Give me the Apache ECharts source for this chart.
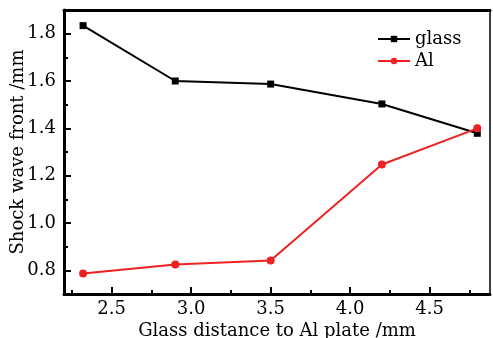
<!DOCTYPE html>
<html>
<head>
<meta charset="utf-8">
<script src="https://cdn.jsdelivr.net/npm/echarts@6/dist/echarts.min.js"></script>
<style>
  html, body { margin: 0; padding: 0; background: #fff; }
  #chart { width: 493px; height: 338px; }
</style>
</head>
<body>
<div id="chart"></div>
<script>
// data
const distances = [2.32, 2.9, 3.5, 4.2, 4.8];
const glassFront = [1.834, 1.6, 1.587, 1.503, 1.379];
const alFront = [0.787, 0.825, 0.842, 1.247, 1.4];

const xMajorTicks = [2.5, 3.0, 3.5, 4.0, 4.5];
const xMinorTicks = [2.25, 2.75, 3.25, 3.75, 4.25, 4.75];
const yMajorTicks = [0.8, 1.0, 1.2, 1.4, 1.6, 1.8];
const yMinorTicks = [0.9, 1.1, 1.3, 1.5, 1.7];

const font = 'DejaVu Serif';
const xRange = [2.2, 4.88];
const yRange = [0.7, 1.9];

function pairs(xs, ys) {
  return xs.map((x, i) => [x, ys[i]]);
}

let chart = echarts.init(document.getElementById('chart'));

chart.setOption({
  animation: false,
  textStyle: { fontFamily: font, color: '#000' },
  legend: {
    orient: 'vertical',
    left: 372,
    top: 25,
    itemWidth: 32,
    itemHeight: 8,
    itemGap: 4,
    textStyle: { fontFamily: font, fontSize: 18, color: '#000' },
    data: ['glass', 'Al']
  },
  grid: {
    left: 64,
    top: 10,
    right: 3,
    bottom: 44,
    outerBoundsMode: 'none',
    containLabel: false,
    show: true,
    borderColor: '#000',
    borderWidth: 1.5
  },
  xAxis: [
    {
      type: 'value',
      position: 'bottom',
      min: xRange[0],
      max: xRange[1],
      name: 'Glass distance to Al plate /mm',
      nameLocation: 'middle',
      nameGap: 28,
      nameMoveOverlap: false,
      nameTextStyle: { fontFamily: font, fontSize: 18, color: '#000' },
      axisLine: { lineStyle: { color: '#000', width: 3 } },
      axisTick: { inside: true, length: 7, lineStyle: { color: '#000', width: 2 }, customValues: xMajorTicks },
      axisLabel: { fontFamily: font, fontSize: 18, color: '#000', margin: 6, customValues: xMajorTicks,
        formatter: v => v.toFixed(1) },
      splitLine: { show: false }
    },
    {
      type: 'value',
      position: 'bottom',
      min: xRange[0],
      max: xRange[1],
      axisLine: { show: false },
      axisTick: { inside: true, length: 4, lineStyle: { color: '#000', width: 2 }, customValues: xMinorTicks },
      axisLabel: { show: false },
      splitLine: { show: false }
    },
    {
      type: 'value',
      position: 'top',
      min: xRange[0],
      max: xRange[1],
      axisLine: { lineStyle: { color: '#000', width: 3 } },
      axisTick: { show: false },
      axisLabel: { show: false },
      splitLine: { show: false }
    }
  ],
  yAxis: [
    {
      type: 'value',
      position: 'left',
      min: yRange[0],
      max: yRange[1],
      name: 'Shock wave front /mm',
      nameLocation: 'middle',
      nameGap: 37,
      nameMoveOverlap: false,
      nameTextStyle: { fontFamily: font, fontSize: 18, color: '#000' },
      axisLine: { lineStyle: { color: '#000', width: 3 } },
      axisTick: { inside: true, length: 7, lineStyle: { color: '#000', width: 2 }, customValues: yMajorTicks },
      axisLabel: { fontFamily: font, fontSize: 18, color: '#000', margin: 8, customValues: yMajorTicks,
        formatter: v => v.toFixed(1) },
      splitLine: { show: false }
    },
    {
      type: 'value',
      position: 'left',
      min: yRange[0],
      max: yRange[1],
      axisLine: { show: false },
      axisTick: { inside: true, length: 4, lineStyle: { color: '#000', width: 2 }, customValues: yMinorTicks },
      axisLabel: { show: false },
      splitLine: { show: false }
    }
  ],
  series: [
    {
      name: 'glass',
      type: 'line',
      xAxisIndex: 0,
      yAxisIndex: 0,
      data: pairs(distances, glassFront),
      symbol: 'rect',
      symbolSize: 7,
      itemStyle: { color: '#000' },
      lineStyle: { color: '#000', width: 2 }
    },
    {
      name: 'Al',
      type: 'line',
      xAxisIndex: 0,
      yAxisIndex: 0,
      data: pairs(distances, alFront),
      symbol: 'circle',
      symbolSize: 8,
      itemStyle: { color: '#ee2222' },
      lineStyle: { color: '#ee2222', width: 2 }
    }
  ]
});
</script>
</body>
</html>
